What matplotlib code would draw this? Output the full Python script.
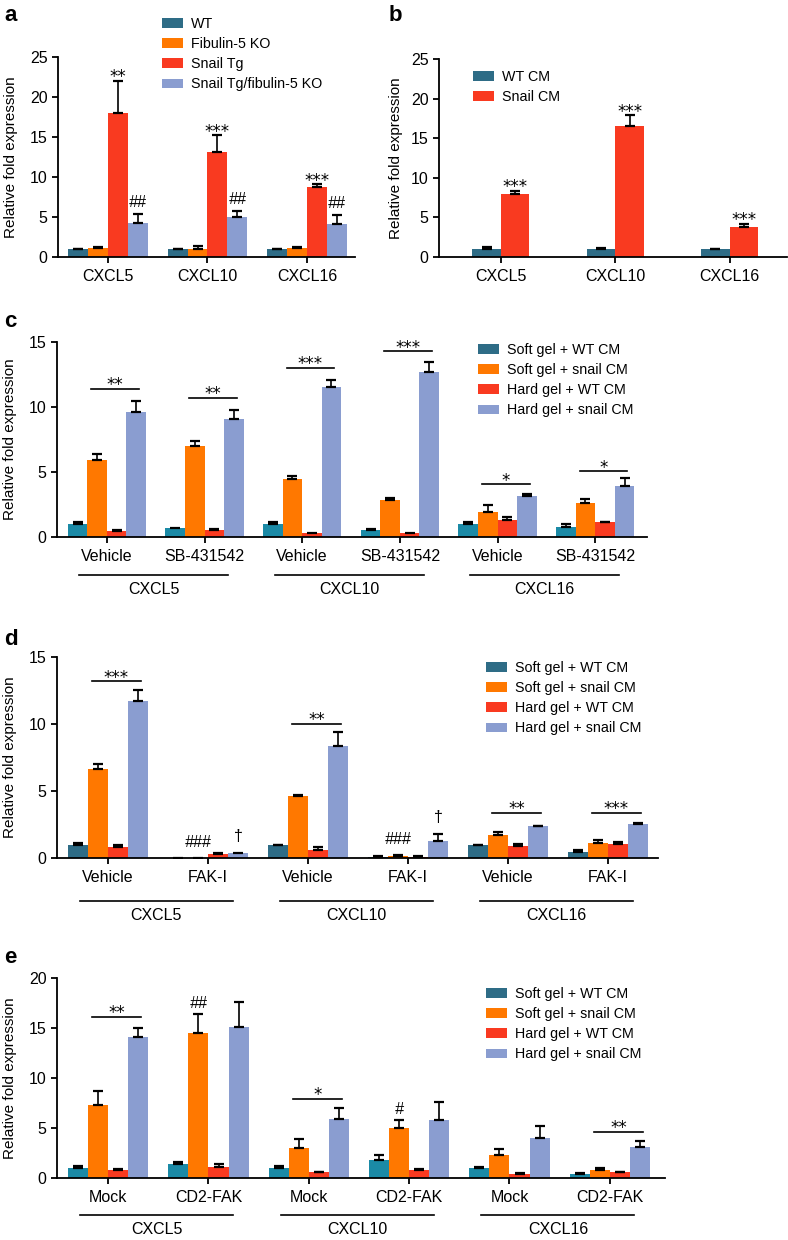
import numpy as np
import matplotlib
matplotlib.use("Agg")
import matplotlib.pyplot as plt
from matplotlib.patches import Patch
import matplotlib.transforms as mtransforms

plt.rcParams['font.family'] = ['Liberation Sans', 'DejaVu Sans']

nan = np.nan

# ---------------- data ----------------
genes = ['CXCL5', 'CXCL10', 'CXCL16']

# panel a
a_labels = ['WT', 'Fibulin-5 KO', 'Snail Tg', 'Snail Tg/fibulin-5 KO']
a_wt = [1.0, 1.0, 1.0]
a_wt_err = [0.05, 0.05, 0.05]
a_fko = [1.1, 1.0, 1.08]
a_fko_err = [0.12, 0.38, 0.22]
a_snail = [18.0, 13.1, 8.7]
a_snail_err = [4.0, 2.1, 0.4]
a_combo = [4.3, 5.0, 4.1]
a_combo_err = [1.05, 0.8, 1.1]
a_snail_marks = ['**', '***', '***']
a_combo_marks = ['##', '##', '##']

# panel b
b_labels = ['WT CM', 'Snail CM']
b_wt = [1.0, 1.0, 1.0]
b_wt_err = [0.25, 0.12, 0.05]
b_snail = [8.0, 16.5, 3.8]
b_snail_err = [0.35, 1.4, 0.4]
b_snail_marks = ['***', '***', '***']

# panels c-e common legend
gel_labels = ['Soft gel + WT CM', 'Soft gel + snail CM',
              'Hard gel + WT CM', 'Hard gel + snail CM']

# panel c
c_sub = ['Vehicle', 'SB-431542'] * 3
c_soft_wt = [0.97, 0.72, 0.97, 0.56, 0.97, 0.74]
c_soft_wt_err = [0.22, nan, 0.16, 0.08, 0.21, 0.29]
c_soft_snail = [5.9, 7.0, 4.44, 2.87, 1.92, 2.64]
c_soft_snail_err = [0.46, 0.36, 0.28, 0.13, 0.57, 0.28]
c_hard_wt = [0.44, 0.54, 0.30, 0.28, 1.33, 1.15]
c_hard_wt_err = [0.12, 0.04, nan, nan, 0.23, 0.03]
c_hard_snail = [9.6, 9.05, 11.54, 12.7, 3.13, 3.95]
c_hard_snail_err = [0.9, 0.75, 0.56, 0.8, 0.17, 0.59]
c_sig_text = ['**', '**', '***', '***', '*', '*']
c_sig_y = [11.4, 10.7, 13.0, 14.28, 4.05, 5.05]

# panel d
d_sub = ['Vehicle', 'FAK-I'] * 3
d_soft_wt = [0.94, 0.02, 0.94, 0.10, 0.94, 0.47]
d_soft_wt_err = [0.15, nan, 0.05, 0.03, 0.05, 0.15]
d_soft_snail = [6.65, 0.02, 4.64, 0.15, 1.69, 1.12]
d_soft_snail_err = [0.37, nan, 0.06, 0.07, 0.22, 0.22]
d_hard_wt = [0.82, 0.30, 0.57, 0.10, 0.92, 1.07]
d_hard_wt_err = [0.12, 0.05, 0.22, 0.03, 0.15, 0.12]
d_hard_snail = [11.69, 0.35, 8.39, 1.24, 2.36, 2.53]
d_hard_snail_err = [0.84, nan, 1.04, 0.55, 0.05, 0.05]
d_sig_text = ['***', '', '**', '', '**', '***']
d_sig_y = [13.2, nan, 10.0, nan, 3.35, 3.35]
d_orange_marks = ['', '###', '', '###', '', '']
d_blue_marks = ['', '\u2020', '', '\u2020', '', '']

# panel e
e_sub = ['Mock', 'CD2-FAK'] * 3
e_soft_wt = [0.97, 1.37, 0.97, 1.84, 0.97, 0.37]
e_soft_wt_err = [0.23, 0.23, 0.27, 0.5, 0.13, 0.13]
e_soft_snail = [7.26, 14.5, 3.0, 5.02, 2.34, 0.77]
e_soft_snail_err = [1.47, 1.9, 0.95, 0.83, 0.56, 0.2]
e_hard_wt = [0.8, 1.06, 0.57, 0.77, 0.43, 0.57]
e_hard_wt_err = [0.07, 0.38, 0.07, 0.17, 0.07, 0.07]
e_hard_snail = [14.08, 15.15, 5.92, 5.85, 4.05, 3.1]
e_hard_snail_err = [0.92, 2.41, 1.1, 1.78, 1.13, 0.58]
e_sig_text = ['**', '', '*', '', '', '**']
e_sig_y = [16.15, nan, 7.9, nan, nan, 4.6]
e_orange_marks = ['', '##', '', '#', '', '']

# ---------------- styles ----------------
TEAL_DARK = '#2e6c86'
TEAL_CYAN = '#1b8aa6'
ORANGE = '#ff7800'
RED = '#f93a20'
LAV = '#8a9dd0'

W, H = 788, 1240
fig = plt.figure(figsize=(W / 100, H / 100), dpi=100)

TICK_FS = 11.5
LEG_FS = 10.3
MARK_FS = 12


def px_axes(l, t, r, b):
    return fig.add_axes([l / W, 1 - b / H, (r - l) / W, (b - t) / H])


def style(ax, ylab_x_px, left_px, width_px):
    for s in ['top', 'right']:
        ax.spines[s].set_visible(False)
    for s in ['left', 'bottom']:
        ax.spines[s].set_linewidth(1.3)
    ax.tick_params(axis='both', length=4.5, width=1.3, labelsize=TICK_FS,
                   direction='out', pad=3)
    ax.tick_params(axis='x', pad=4)
    ax.set_ylabel('Relative fold expression', fontsize=11)
    ax.yaxis.set_label_coords((ylab_x_px - left_px) / width_px, 0.5)


def draw_bars(ax, vals_list, errs_list, colors, width):
    n = len(vals_list)
    x = np.arange(len(vals_list[0]))
    offs = (np.arange(n) - (n - 1) / 2) * width
    for v, e, c, o in zip(vals_list, errs_list, colors, offs):
        v = np.asarray(v, float)
        e = np.asarray(e, float)
        ax.bar(x + o, v, width, color=c, linewidth=0, zorder=2)
        ax.errorbar(x + o, v, yerr=[np.zeros_like(e), e], fmt='none',
                    ecolor='black', elinewidth=1.2, capsize=3.3,
                    capthick=1.6, zorder=3)
    return x, offs


def mark(ax, x, y, text, off_pt, size=MARK_FS, style='normal', family=None):
    kw = {}
    if family:
        kw['family'] = family
    ax.annotate(text, (x, y), xytext=(0, off_pt), textcoords='offset points',
                ha='center', va='baseline', fontsize=size, fontstyle=style,
                annotation_clip=False, **kw)


def star(ax, x, y, text, off_pt=-1.0):
    mark(ax, x, y, text, off_pt, size=12, family=['DejaVu Sans'])


def legend(ax, labels, colors, x_px, y_px):
    handles = [Patch(facecolor=c, edgecolor='none') for c in colors]
    ax.legend(handles, labels, loc='upper left',
              bbox_to_anchor=(x_px / W, 1 - y_px / H),
              bbox_transform=fig.transFigure, frameon=False,
              fontsize=LEG_FS, handlelength=1.5, handleheight=0.68,
              handletextpad=0.5, labelspacing=0.43, borderpad=0,
              borderaxespad=0)


def groups(ax, sub_labels, line_px, label_px, bottom_px, height_px):
    x = np.arange(len(sub_labels))
    ax.set_xticks(x)
    ax.set_xticklabels(sub_labels)
    tr = mtransforms.blended_transform_factory(ax.transData, ax.transAxes)
    yl = -(line_px - bottom_px) / height_px
    yt = -(label_px - bottom_px) / height_px
    for g, name in enumerate(genes):
        x0 = 2 * g - 0.28
        x1 = 2 * g + 1 + 0.245
        ax.plot([x0, x1], [yl, yl], color='black', lw=1.2, transform=tr,
                clip_on=False)
        ax.text((x0 + x1) / 2, yt, name, transform=tr, ha='center',
                va='center', fontsize=TICK_FS)


def sig_lines(ax, texts, ys):
    for i, (t, y) in enumerate(zip(texts, ys)):
        if not t:
            continue
        x0, x1 = i - 0.16, i + 0.33
        ax.plot([x0, x1], [y, y], color='black', lw=1.2, zorder=4)
        star(ax, (x0 + x1) / 2, y, t)


# ---------------- panel a ----------------
la, ta, ra, ba = 58, 57, 355, 257
axa = px_axes(la, ta, ra, ba)
cols_a = [TEAL_DARK, ORANGE, RED, LAV]
x, offs = draw_bars(axa, [a_wt, a_fko, a_snail, a_combo],
                    [a_wt_err, a_fko_err, a_snail_err, a_combo_err],
                    cols_a, 0.2)
for i in range(3):
    star(axa, x[i] + offs[2], a_snail[i] + a_snail_err[i], a_snail_marks[i])
    mark(axa, x[i] + offs[3], a_combo[i] + a_combo_err[i], a_combo_marks[i], 5,
         size=11.5, style='italic')
axa.set_xlim(-0.50, 2.48)
axa.set_ylim(0, 25)
axa.set_yticks([0, 5, 10, 15, 20, 25])
axa.set_xticks(x)
axa.set_xticklabels(genes)
style(axa, 18, la, ra - la)
legend(axa, a_labels, cols_a, 162, 17)

# ---------------- panel b ----------------
lb, tb, rb, bb = 439, 59, 787, 257
axb = px_axes(lb, tb, rb, bb)
cols_b = [TEAL_DARK, RED]
x, offs = draw_bars(axb, [b_wt, b_snail], [b_wt_err, b_snail_err], cols_b, 0.25)
for i in range(3):
    star(axb, x[i] + offs[1], b_snail[i] + b_snail_err[i], b_snail_marks[i])
axb.set_xlim(-0.54, 2.50)
axb.set_ylim(0, 25)
axb.set_yticks([0, 5, 10, 15, 20, 25])
axb.set_xticks(x)
axb.set_xticklabels(genes)
style(axb, 403, lb, rb - lb)
legend(axb, b_labels, cols_b, 473, 70)

# ---------------- panel c ----------------
lc, tc, rc, bc = 57, 342, 647, 537
axc = px_axes(lc, tc, rc, bc)
cols_c = [TEAL_CYAN, ORANGE, RED, LAV]
draw_bars(axc, [c_soft_wt, c_soft_snail, c_hard_wt, c_hard_snail],
          [c_soft_wt_err, c_soft_snail_err, c_hard_wt_err, c_hard_snail_err],
          cols_c, 0.2)
sig_lines(axc, c_sig_text, c_sig_y)
axc.set_xlim(-0.51, 5.53)
axc.set_ylim(0, 15)
axc.set_yticks([0, 5, 10, 15])
style(axc, 17, lc, rc - lc)
groups(axc, c_sub, 575, 590, bc, bc - tc)
legend(axc, gel_labels, [TEAL_DARK, ORANGE, RED, LAV], 478, 343)

# ---------------- panel d ----------------
ld, td, rd, bd = 57, 657, 658, 858
axd = px_axes(ld, td, rd, bd)
cols_d = [TEAL_DARK, ORANGE, RED, LAV]
x, offs = draw_bars(axd, [d_soft_wt, d_soft_snail, d_hard_wt, d_hard_snail],
                    [d_soft_wt_err, d_soft_snail_err, d_hard_wt_err, d_hard_snail_err],
                    cols_d, 0.2)
sig_lines(axd, d_sig_text, d_sig_y)
for i in range(6):
    if d_orange_marks[i]:
        top = d_soft_snail[i] + np.nan_to_num(d_soft_snail_err[i])
        mark(axd, x[i] + offs[1], top, d_orange_marks[i], 8, size=11.5,
             style='italic')
    if d_blue_marks[i]:
        top = d_hard_snail[i] + np.nan_to_num(d_hard_snail_err[i])
        mark(axd, x[i] + offs[3], top, d_blue_marks[i], 9, size=11.5)
axd.set_xlim(-0.51, 5.50)
axd.set_ylim(0, 15)
axd.set_yticks([0, 5, 10, 15])
style(axd, 17, ld, rd - ld)
groups(axd, d_sub, 901, 915, bd, bd - td)
legend(axd, gel_labels, cols_d, 486, 661)

# ---------------- panel e ----------------
le, te, re_, be = 57, 978, 665, 1178
axe = px_axes(le, te, re_, be)
cols_e = [TEAL_CYAN, ORANGE, RED, LAV]
x, offs = draw_bars(axe, [e_soft_wt, e_soft_snail, e_hard_wt, e_hard_snail],
                    [e_soft_wt_err, e_soft_snail_err, e_hard_wt_err, e_hard_snail_err],
                    cols_e, 0.2)
sig_lines(axe, e_sig_text, e_sig_y)
for i in range(6):
    if e_orange_marks[i]:
        top = e_soft_snail[i] + e_soft_snail_err[i]
        mark(axe, x[i] + offs[1], top, e_orange_marks[i], 4, size=11.5,
             style='italic')
axe.set_xlim(-0.51, 5.55)
axe.set_ylim(0, 20)
axe.set_yticks([0, 5, 10, 15, 20])
style(axe, 17, le, re_ - le)
groups(axe, e_sub, 1215, 1230, be, be - te)
legend(axe, gel_labels, [TEAL_DARK, ORANGE, RED, LAV], 486, 987)

# ---------------- panel letters ----------------
for letter, xp, yp in [('a', 4, 21), ('b', 389, 21), ('c', 4, 327),
                       ('d', 4, 645), ('e', 4, 963)]:
    fig.text(xp / W, 1 - yp / H, letter, fontsize=16, fontweight='bold',
             ha='left', va='baseline')

fig.savefig('out.png', dpi=100)
